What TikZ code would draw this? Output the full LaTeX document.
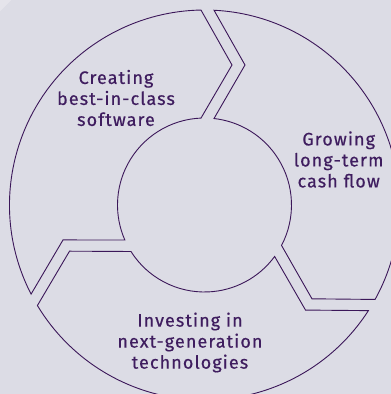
\documentclass[tikz,border=0pt]{standalone}
\usepackage{fontspec}
\setmainfont{Fira Sans}[LetterSpace=6,FakeBold=0.5]
\begin{document}
\definecolor{bgcol}{HTML}{DCDCE5}
\definecolor{bglight}{HTML}{E5E4EB}
\definecolor{ringcol}{HTML}{3B1759}
\definecolor{txtcol}{HTML}{3F1D5F}
\begin{tikzpicture}[x=1pt,y=1pt,
  ring/.style={draw=ringcol,line width=0.9pt,line join=miter},
  label/.style={text=txtcol,align=center,inner sep=0pt,
    font=\fontsize{18}{21}\selectfont}]
% canvas
\useasboundingbox (-204.5,-189) rectangle (186.5,205);
\fill[bgcol] (-204.5,-189) rectangle (186.5,205);
\fill[bglight] (-204.5,205) -- (-193,205) -- (-204.5,193.5) -- cycle;
% ring geometry: outer radius 195, inner radius 87
% arrow head (rotation 0): outer 91.03, tip 142.68 at 78.89, inner 92.3
% notch (rotation 0): outer 87.2, tip 145.74 at 73.87, inner 83.73
\foreach \r in {0,-120,120}{
  \draw[ring]
    ({\r+120+87.2}:195) arc[start angle={\r+120+87.2}, end angle={\r+91.03}, radius=195]
    -- ({\r+78.89}:142.68)
    -- ({\r+92.3}:87) arc[start angle={\r+92.3}, end angle={\r+120+83.73}, radius=87]
    -- ({\r+120+73.87}:145.74)
    -- cycle;
}
% labels
\node[label] (c1) at (-88.5,107) {Creating\\best-in-class\\software};
\node[label] (c2) at (134.2,45.5) {Growing\\long-term\\cash flow};
\node[label] (c3) at (-14.5,-137.5) {Investing in\\next-generation\\technologies};
\end{tikzpicture}
\end{document}
